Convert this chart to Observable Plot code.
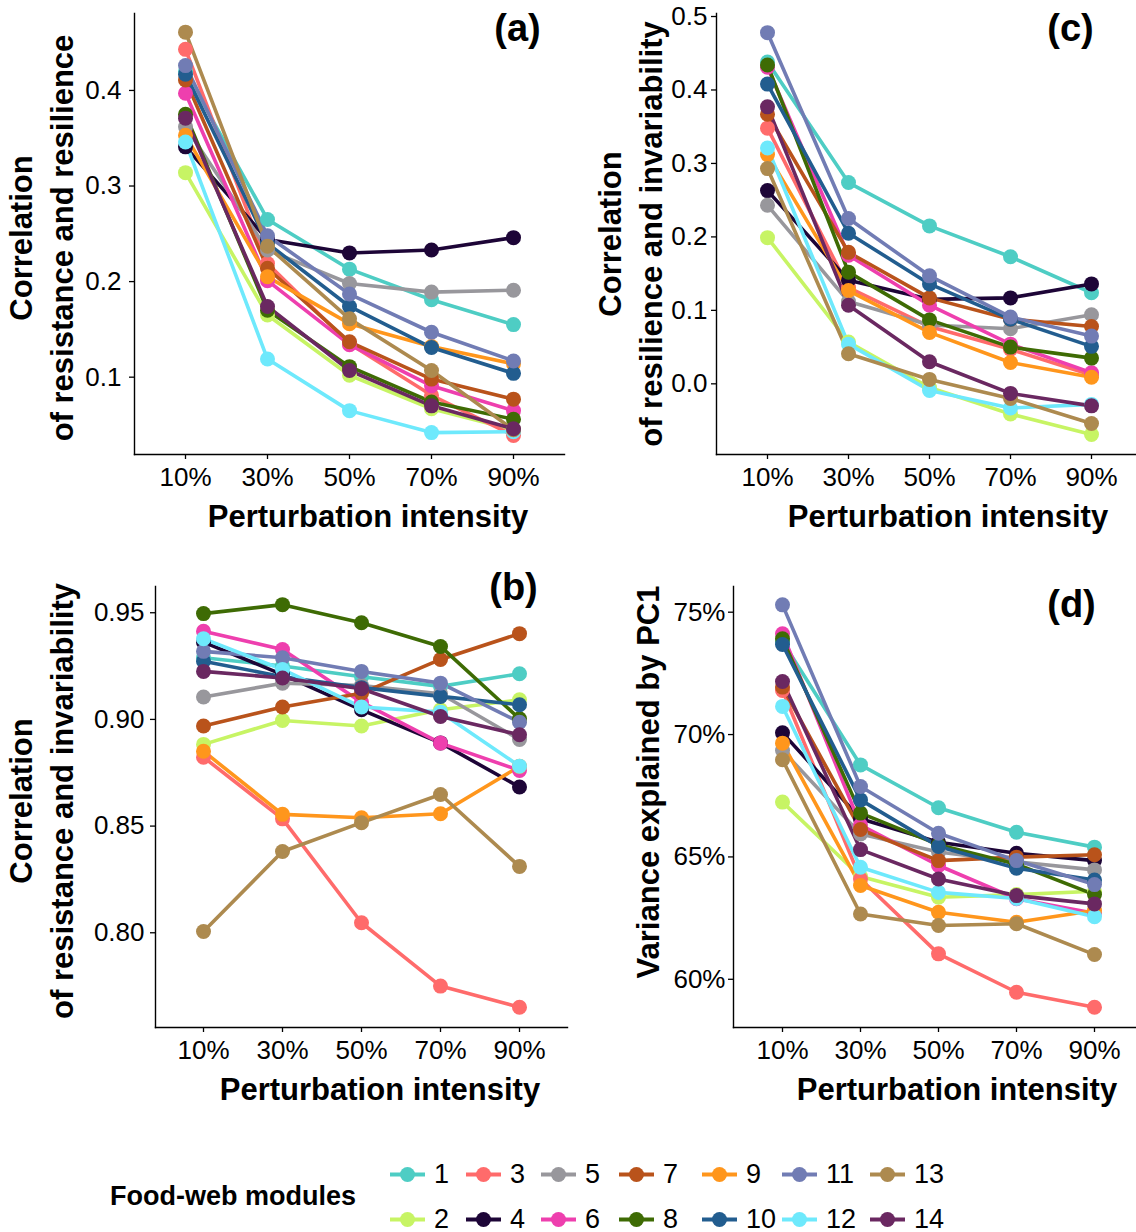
<!DOCTYPE html>
<html>
<head>
<meta charset="utf-8">
<script src="https://cdn.jsdelivr.net/npm/d3@7"></script>
<script src="https://cdn.jsdelivr.net/npm/@observablehq/plot@0.6"></script>
<style>
  html, body { margin: 0; padding: 0; background: #fff; }
  body { width: 1136px; height: 1232px; overflow: hidden; position: relative;
         font-family: "Liberation Sans", Arial, Helvetica, sans-serif; color: #000; }
  .panel { position: absolute; }
  .panel svg { overflow: visible; max-width: none !important; }
  #legend-title { position: absolute; left: 110px; top: 1196px; transform: translateY(-50%);
                  font-weight: bold; font-size: 27px; white-space: nowrap; }
  .lg-item { position: absolute; display: flex; align-items: center; transform: translateY(-50%);
             font-size: 27px; white-space: nowrap; }
  .lg-item svg { display: block; margin-right: 8px; }
</style>
</head>
<body>
<div id="root"></div>
<script>
// ---------- data ----------
const intensities = ["10%", "30%", "50%", "70%", "90%"];
const modules = [1, 2, 3, 4, 5, 6, 7, 8, 9, 10, 11, 12, 13, 14];
const moduleColors = ["#4ecdc4", "#c7f464", "#ff6b6b", "#1d0537", "#98979c", "#ee3fae", "#b9531b",
                      "#3e6b04", "#ff961c", "#225d8f", "#717cb4", "#6ee9fc", "#ad8a4f", "#6a2861"];

// (a) Correlation of resistance and resilience  (rows = modules 1..14, cols = 10%..90%)
const resistanceResilience = [
  [0.420, 0.265, 0.213, 0.181, 0.155],
  [0.314, 0.165, 0.102, 0.067, 0.045],
  [0.443, 0.219, 0.135, 0.081, 0.039],
  [0.341, 0.244, 0.230, 0.233, 0.246],
  [0.362, 0.233, 0.198, 0.189, 0.191],
  [0.397, 0.201, 0.134, 0.091, 0.065],
  [0.411, 0.214, 0.137, 0.098, 0.077],
  [0.375, 0.170, 0.111, 0.074, 0.056],
  [0.353, 0.205, 0.156, 0.132, 0.114],
  [0.417, 0.240, 0.174, 0.131, 0.104],
  [0.426, 0.248, 0.187, 0.147, 0.117],
  [0.346, 0.119, 0.065, 0.042, 0.043],
  [0.461, 0.237, 0.161, 0.107, 0.045],
  [0.371, 0.174, 0.107, 0.070, 0.046]
];

// (c) Correlation of resilience and invariability
const resilienceInvariability = [
  [0.438, 0.274, 0.215, 0.173, 0.124],
  [0.199, 0.057, -0.005, -0.041, -0.069],
  [0.348, 0.131, 0.078, 0.047, 0.012],
  [0.263, 0.141, 0.115, 0.117, 0.136],
  [0.243, 0.112, 0.080, 0.075, 0.094],
  [0.431, 0.175, 0.107, 0.054, 0.015],
  [0.367, 0.179, 0.117, 0.088, 0.078],
  [0.434, 0.152, 0.087, 0.050, 0.035],
  [0.312, 0.127, 0.070, 0.029, 0.009],
  [0.408, 0.205, 0.136, 0.088, 0.051],
  [0.478, 0.225, 0.147, 0.091, 0.065],
  [0.321, 0.054, -0.009, -0.033, -0.028],
  [0.293, 0.041, 0.006, -0.020, -0.054],
  [0.377, 0.107, 0.030, -0.013, -0.030]
];

// (b) Correlation of resistance and invariability
const resistanceInvariability = [
  [0.9289, 0.9250, 0.9200, 0.9155, 0.9214],
  [0.8883, 0.8995, 0.8969, 0.9045, 0.9092],
  [0.8823, 0.8534, 0.8047, 0.7750, 0.7651],
  [0.9362, 0.9210, 0.9045, 0.8890, 0.8683],
  [0.9105, 0.9170, 0.9159, 0.9120, 0.8906],
  [0.9413, 0.9328, 0.9081, 0.8889, 0.8761],
  [0.8969, 0.9058, 0.9123, 0.9281, 0.9402],
  [0.9496, 0.9538, 0.9453, 0.9342, 0.9003],
  [0.8851, 0.8555, 0.8539, 0.8558, 0.8780],
  [0.9273, 0.9200, 0.9149, 0.9108, 0.9069],
  [0.9319, 0.9289, 0.9225, 0.9170, 0.8987],
  [0.9378, 0.9234, 0.9058, 0.9034, 0.8781],
  [0.8006, 0.8381, 0.8516, 0.8648, 0.8311],
  [0.9225, 0.9194, 0.9144, 0.9014, 0.8928]
];

// (d) Variance explained by PC1 (%)
const variancePC1 = [
  [73.80, 68.76, 67.01, 66.01, 65.40],
  [67.24, 64.20, 63.35, 63.46, 63.60],
  [71.80, 64.10, 61.04, 59.47, 58.86],
  [70.07, 66.56, 65.60, 65.15, 64.85],
  [69.35, 65.94, 65.20, 64.80, 64.47],
  [74.12, 66.30, 64.65, 63.29, 62.70],
  [71.94, 66.12, 64.85, 64.99, 65.09],
  [73.91, 66.79, 65.50, 64.70, 63.46],
  [69.65, 63.83, 62.74, 62.33, 62.81],
  [73.68, 67.33, 65.43, 64.54, 64.06],
  [75.30, 67.88, 65.97, 64.85, 63.87],
  [71.15, 64.58, 63.55, 63.30, 62.56],
  [68.97, 62.67, 62.20, 62.27, 61.01],
  [72.17, 65.30, 64.10, 63.42, 63.08]
];

const ticksA = [0.1, 0.2, 0.3, 0.4];
const ticksC = [0.0, 0.1, 0.2, 0.3, 0.4, 0.5];
const ticksB = [0.80, 0.85, 0.90, 0.95];
const ticksD = [60, 65, 70, 75];

const xTitle = "Perturbation intensity";
const legendTitle = "Food-web modules";

// ---------- drawing ----------
const FONT = "Liberation Sans, Arial, Helvetica, sans-serif";

function toRows(values) {
  return modules.flatMap((m, i) => intensities.map((x, j) => ({module: m, x, y: values[i][j]})));
}

function panel(o) {
  const data = toRows(o.values);
  const chart = Plot.plot({
    width: o.width, height: o.height,
    marginLeft: o.marginLeft, marginRight: o.marginRight,
    marginTop: o.marginTop, marginBottom: o.marginBottom,
    style: {fontFamily: FONT, fontSize: "26px", color: "#000", background: "transparent",
            overflow: "visible", maxWidth: "none"},
    x: {type: "point", domain: intensities, padding: 0.6},
    y: {domain: o.yDomain},
    color: {type: "ordinal", domain: modules, range: moduleColors},
    marks: [
      Plot.frame({anchor: "left", stroke: "#000", strokeWidth: 1.4}),
      Plot.frame({anchor: "bottom", stroke: "#000", strokeWidth: 1.4}),
      Plot.axisX({tickSize: 5, tickPadding: 8, fontSize: 26, label: null, strokeWidth: 1.3}),
      Plot.axisY({ticks: o.yTicks, tickFormat: o.yFormat, tickSize: 5, tickPadding: o.tickPadding,
                  fontSize: 26, label: null, strokeWidth: 1.3}),
      Plot.line(data, {x: "x", y: "y", z: "module", stroke: "module", strokeWidth: 3.6}),
      Plot.dot(data, {x: "x", y: "y", fill: "module", r: 7.5}),
      Plot.text([o.yTitle], {text: d => d, frameAnchor: "left", rotate: -90, dx: o.yTitleDx, dy: o.yTitleDy,
                             fontSize: 31, fontWeight: "bold", lineHeight: 1.33, textAnchor: "middle", fill: "#000"}),
      Plot.text([xTitle], {text: d => d, frameAnchor: "bottom", lineAnchor: "top", dx: 18.5, dy: 50,
                           fontSize: 31, fontWeight: "bold", fill: "#000"}),
      Plot.text([o.tag], {text: d => d, frameAnchor: "top-left", lineAnchor: "top", textAnchor: "middle",
                          dx: o.tagDx, dy: o.tagDy, fontSize: 38, fontWeight: "bold", fill: "#000"})
    ]
  });
  const div = document.createElement("div");
  div.className = "panel";
  div.style.left = o.left + "px";
  div.style.top = o.top + "px";
  div.style.width = o.width + "px";
  div.appendChild(chart);
  document.getElementById("root").appendChild(div);
}

panel({
  values: resistanceResilience, left: 0, top: 0, width: 568, height: 555,
  marginLeft: 134, marginRight: 4, marginTop: 13, marginBottom: 101,
  yDomain: [0.0191, 0.4805], yTicks: ticksA, yFormat: d3.format(".1f"), tickPadding: 8,
  yTitle: "Correlation\nof resistance and resilience", yTitleDx: -95, yTitleDy: 4,
  tag: "(a)", tagDx: 383, tagDy: 1
});
panel({
  values: resilienceInvariability, left: 568, top: 0, width: 578, height: 555,
  marginLeft: 148, marginRight: 4, marginTop: 13, marginBottom: 101,
  yDomain: [-0.0962, 0.5041], yTicks: ticksC, yFormat: d3.format(".1f"), tickPadding: 4,
  yTitle: "Correlation\nof resilience and invariability", yTitleDx: -88, yTitleDy: 0,
  tag: "(c)", tagDx: 354, tagDy: 1
});
panel({
  values: resistanceInvariability, left: 0, top: 560, width: 568, height: 570,
  marginLeft: 155, marginRight: 1, marginTop: 26, marginBottom: 103,
  yDomain: [0.7556, 0.9623], yTicks: ticksB, yFormat: d3.format(".2f"), tickPadding: 6,
  yTitle: "Correlation\nof resistance and invariability", yTitleDx: -116, yTitleDy: -6,
  tag: "(b)", tagDx: 358, tagDy: -13
});
panel({
  values: variancePC1, left: 568, top: 560, width: 578, height: 570,
  marginLeft: 165, marginRight: 3, marginTop: 26, marginBottom: 103,
  yDomain: [58.03, 76.05], yTicks: ticksD, yFormat: d => d + "%", tickPadding: 3,
  yTitle: "Variance explained by PC1", yTitleDx: -88, yTitleDy: -25,
  tag: "(d)", tagDx: 338, tagDy: 4
});

// ---------- legend ----------
const legendColX = [390, 466, 541, 619, 702, 782, 870];
const legendRowY = [1174, 1219];
const root = document.getElementById("root");
const lt = document.createElement("div");
lt.id = "legend-title";
lt.textContent = legendTitle;
root.appendChild(lt);
const colorOf = d3.scaleOrdinal(modules, moduleColors);
modules.forEach((m, i) => {
  const col = Math.floor(i / 2), row = i % 2;
  const item = d3.select(root).append("div").attr("class", "lg-item")
    .style("left", legendColX[col] + "px").style("top", legendRowY[row] + "px");
  const svg = item.append("svg").attr("width", 36).attr("height", 20);
  svg.append("line").attr("x1", 0).attr("x2", 35).attr("y1", 10).attr("y2", 10)
    .attr("stroke", colorOf(m)).attr("stroke-width", 4);
  svg.append("circle").attr("cx", 17.5).attr("cy", 10).attr("r", 7.5).attr("fill", colorOf(m));
  item.append("span").text(m);
});
</script>
</body>
</html>
